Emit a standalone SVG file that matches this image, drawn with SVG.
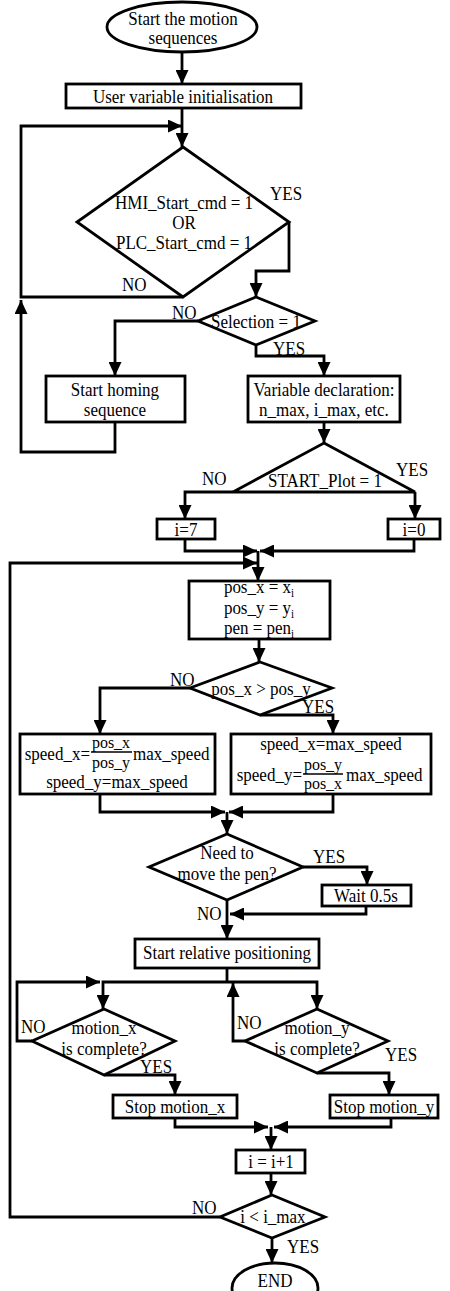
<svg xmlns="http://www.w3.org/2000/svg" width="450" height="1291" viewBox="0 0 450 1291">
<defs>
<marker id="ah" markerUnits="userSpaceOnUse" markerWidth="14" markerHeight="13" refX="14" refY="6.5" orient="auto">
<path d="M0,0 L14,6.5 L0,13 z" fill="#000"/>
</marker>
<style>
.s{fill:#fff;stroke:#000;stroke-width:2.8}
.c{fill:none;stroke:#000;stroke-width:2.8;marker-end:url(#ah)}
.n{fill:none;stroke:#000;stroke-width:2.8}
text{font-family:"Liberation Serif","Times New Roman",serif;font-size:17px;fill:#000;transform-box:fill-box;transform-origin:center;transform:scaleY(1.1)}
.m{text-anchor:middle}
.e{text-anchor:end}
.sub{font-size:11px}
.fr{font-size:16px}
</style>
</defs>
<rect width="450" height="1291" fill="#fff"/>

<g id="connectors">
<path class="c" d="M182,52 L182,84"/>
<path class="c" d="M182,108 L182,147"/>
<path class="c" d="M183,297 L21,297 L21,126 L182,126"/>
<path class="c" d="M115,422 L115,452 L21,452 L21,300"/>
<path class="c" d="M289,222 L289,271 L256,271 L256,297"/>
<path class="c" d="M198,321 L115,321 L115,376"/>
<path class="c" d="M256,345 L256,356 L324,356 L324,376"/>
<path class="c" d="M324,422 L324,443"/>
<path class="c" d="M233,492 L185,492 L185,519"/>
<path class="c" d="M415,492 L415,519"/>
<path class="c" d="M185,539 L185,551 L257,551"/>
<path class="c" d="M414,539 L414,551 L260,551"/>
<path class="c" d="M220,1217 L10,1217 L10,563 L257,563"/>
<path class="c" d="M258,551 L258,581"/>
<path class="c" d="M259,639 L259,662"/>
<path class="c" d="M190,688 L100,688 L100,734"/>
<path class="c" d="M260,715 L333,715 L333,734"/>
<path class="c" d="M100,794 L100,812 L225,812"/>
<path class="c" d="M333,794 L333,812 L229,812"/>
<path class="c" d="M227,812 L227,834"/>
<path class="c" d="M303,867 L367,867 L367,885"/>
<path class="c" d="M366,906 L366,914 L230,914"/>
<path class="c" d="M227,900 L227,939"/>
<path class="n" d="M227,968 L227,982"/>
<path class="c" d="M227,982 L103,982 L103,1009"/>
<path class="c" d="M227,982 L317,982 L317,1009"/>
<path class="c" d="M32,1041 L17,1041 L17,982 L100,982"/>
<path class="c" d="M245,1041 L233,1041 L233,983"/>
<path class="c" d="M104,1075 L175,1075 L175,1095"/>
<path class="c" d="M317,1073 L389,1073 L389,1095"/>
<path class="c" d="M175,1118 L175,1127 L268,1127"/>
<path class="c" d="M391,1118 L391,1127 L274,1127"/>
<path class="c" d="M271,1127 L271,1150"/>
<path class="c" d="M271,1173 L271,1195"/>
<path class="c" d="M272,1238 L272,1263"/>
</g>

<g id="start">
<ellipse class="s" cx="182" cy="27" rx="75" ry="25"/>
<text class="m" x="183" y="24">Start the motion</text>
<text class="m" x="183" y="43">sequences</text>
</g>

<g id="init">
<rect class="s" x="66" y="84" width="235" height="24"/>
<text class="m" x="183" y="102">User variable initialisation</text>
</g>

<g id="startcmd">
<polygon class="s" points="183,147 289,222 183,297 77,222"/>
<text class="m" x="184" y="208">HMI_Start_cmd = 1</text>
<text class="m" x="184" y="228">OR</text>
<text class="m" x="184" y="248">PLC_Start_cmd = 1</text>
<text x="270" y="199">YES</text>
<text x="122" y="290">NO</text>
</g>

<g id="selection">
<polygon class="s" points="256,297 315,321 256,345 198,321"/>
<text class="m" x="256" y="327">Selection = 1</text>
<text x="172" y="318">NO</text>
<text x="273" y="354">YES</text>
</g>

<g id="homing">
<rect class="s" x="46" y="376" width="139" height="46"/>
<text class="m" x="115" y="395">Start homing</text>
<text class="m" x="115" y="415">sequence</text>
</g>

<g id="vardecl">
<rect class="s" x="248" y="376" width="152" height="46"/>
<text class="m" x="324" y="395">Variable declaration:</text>
<text class="m" x="324" y="415">n_max, i_max, etc.</text>
</g>

<g id="startplot">
<polygon class="s" points="324,443 415,492 233,492"/>
<text class="m" x="325" y="486">START_Plot = 1</text>
<text x="202" y="484">NO</text>
<text x="396" y="475">YES</text>
</g>

<g id="i7">
<rect class="s" x="157" y="519" width="58" height="20"/>
<text class="m" x="186" y="535">i=7</text>
</g>

<g id="i0">
<rect class="s" x="388" y="519" width="52" height="20"/>
<text class="m" x="414" y="535">i=0</text>
</g>

<g id="posassign">
<rect class="s" x="189" y="581" width="141" height="58"/>
<text class="m" x="259" y="593">pos_x = x<tspan class="sub" dy="3">i</tspan></text>
<text class="m" x="259" y="614">pos_y = y<tspan class="sub" dy="3">i</tspan></text>
<text class="m" x="259" y="634">pen = pen<tspan class="sub" dy="3">i</tspan></text>
</g>

<g id="poscmp">
<polygon class="s" points="260,662 332,688 260,715 190,688"/>
<text class="m" x="261" y="694">pos_x &gt; pos_y</text>
<text x="170" y="685">NO</text>
<text x="302" y="712">YES</text>
</g>

<g id="speedleft">
<rect class="s" x="20" y="734" width="195" height="60"/>
<text class="e" x="90" y="759">speed_x=</text>
<text class="m fr" x="111" y="747">pos_x</text>
<line x1="91" y1="752" x2="132" y2="752" stroke="#000" stroke-width="1.3"/>
<text class="m fr" x="111" y="767">pos_y</text>
<text x="133" y="759">max_speed</text>
<text class="m" x="117" y="787">speed_y=max_speed</text>
</g>

<g id="speedright">
<rect class="s" x="231" y="734" width="200" height="60"/>
<text class="m" x="331" y="749">speed_x=max_speed</text>
<text class="e" x="302" y="780">speed_y=</text>
<text class="m fr" x="323" y="769">pos_y</text>
<line x1="303" y1="774" x2="343" y2="774" stroke="#000" stroke-width="1.3"/>
<text class="m fr" x="323" y="788">pos_x</text>
<text x="346" y="780">max_speed</text>
</g>

<g id="movepen">
<polygon class="s" points="227,834 303,867 227,900 149,867"/>
<text class="m" x="227" y="858">Need to</text>
<text class="m" x="227" y="879">move the pen?</text>
<text x="313" y="862">YES</text>
<text x="197" y="919">NO</text>
</g>

<g id="wait">
<rect class="s" x="322" y="885" width="89" height="21"/>
<text class="m" x="366" y="901">Wait 0.5s</text>
</g>

<g id="relpos">
<rect class="s" x="135" y="939" width="184" height="29"/>
<text class="m" x="227" y="958">Start relative positioning</text>
</g>

<g id="motionx">
<polygon class="s" points="104,1009 175,1041 104,1075 32,1041"/>
<text class="m" x="104" y="1033">motion_x</text>
<text class="m" x="104" y="1054">is complete?</text>
<text x="21" y="1032">NO</text>
<text x="140" y="1072">YES</text>
</g>

<g id="motiony">
<polygon class="s" points="317,1009 388,1041 317,1073 245,1041"/>
<text class="m" x="317" y="1033">motion_y</text>
<text class="m" x="317" y="1054">is complete?</text>
<text x="237" y="1028">NO</text>
<text x="385" y="1060">YES</text>
</g>

<g id="stopx">
<rect class="s" x="113" y="1095" width="124" height="23"/>
<text class="m" x="175" y="1112">Stop motion_x</text>
</g>

<g id="stopy">
<rect class="s" x="330" y="1095" width="108" height="23"/>
<text class="m" x="384" y="1112">Stop motion_y</text>
</g>

<g id="incr">
<rect class="s" x="236" y="1150" width="69" height="23"/>
<text class="m" x="271" y="1167">i = i+1</text>
</g>

<g id="imax">
<polygon class="s" points="272,1195 325,1217 272,1238 220,1217"/>
<text class="m" x="273" y="1222">i &lt; i_max</text>
<text x="192" y="1213">NO</text>
<text x="287" y="1252">YES</text>
</g>

<g id="end">
<ellipse class="s" cx="275" cy="1288" rx="43" ry="25"/>
<text class="m" x="275" y="1286">END</text>
</g>
</svg>
